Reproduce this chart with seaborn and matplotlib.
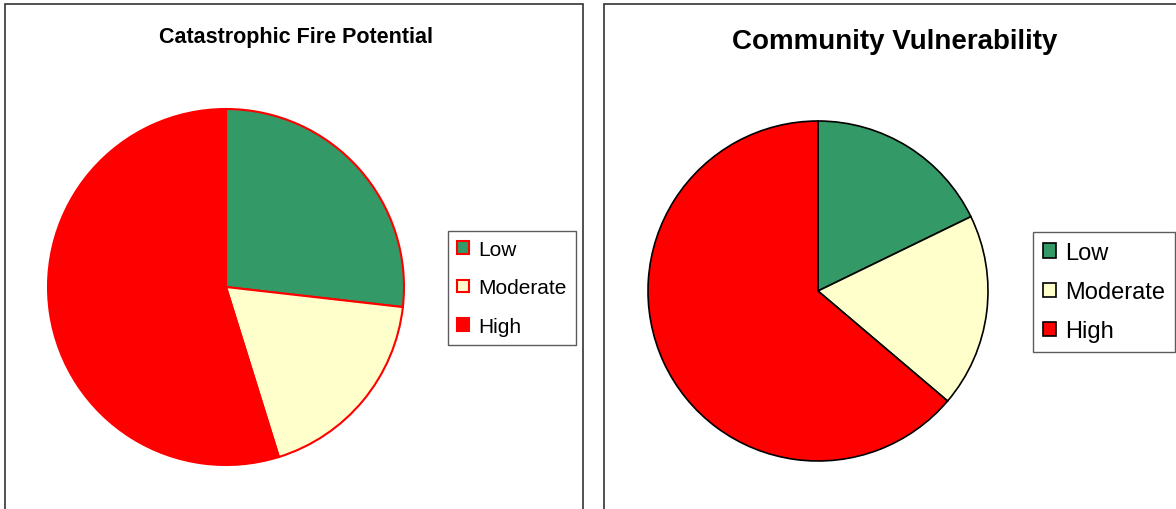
import matplotlib.pyplot as plt
import seaborn as sns
from matplotlib.patches import Rectangle

# Share of area in each class (percent)
categories = ["Low", "Moderate", "High"]
fire_potential = [26.8, 18.4, 54.8]
vulnerability = [17.8, 18.4, 63.8]
colors = ["#339966", "#FFFFCC", "#FF0000"]

sns.set_style("white")
plt.rcParams["font.family"] = ["Liberation Sans", "DejaVu Sans"]
plt.rcParams["text.color"] = "black"

W, H = 1176, 510
fig = plt.figure(figsize=(W / 100, H / 100), dpi=100)


def px_axes(cx, cy, r):
    # axes box in pixel coords (top-left origin) -> figure fraction
    return fig.add_axes([(cx - r) / W, (H - cy - r) / H, 2 * r / W, 2 * r / H])


# panel frames
for x0, x1 in [(5, 583), (604, 1180)]:
    fig.patches.append(Rectangle((x0 / W, -0.05), (x1 - x0) / W, (H - 5) / H + 0.05,
                                 transform=fig.transFigure, fill=False,
                                 edgecolor="#333333", linewidth=1.2))

# left pie
ax1 = px_axes(226, 288, 178)
wedges1, _ = ax1.pie(fire_potential, colors=colors, startangle=90, counterclock=False,
                     wedgeprops=dict(edgecolor="#FF0000", linewidth=1.5))
ax1.set_xlim(-1, 1)
ax1.set_ylim(-1, 1)
ax1.axis("off")
fig.text(296 / W, 1 - 37 / H, "Catastrophic Fire Potential", ha="center", va="center",
         fontsize=15.5, fontweight="bold", color="black")
leg1 = fig.legend(wedges1, categories, loc="center", bbox_to_anchor=(512 / W, 1 - 289 / H),
                  fontsize=15, frameon=True, fancybox=False, handlelength=0.55,
                  handleheight=0.55, handletextpad=0.45, labelspacing=0.93,
                  borderpad=0.45, borderaxespad=0, edgecolor="#333333", labelcolor="black")
leg1.get_frame().set_linewidth(1)
for h in leg1.legend_handles:
    h.set_edgecolor("#FF0000")

# right pie
ax2 = px_axes(818, 292, 170)
wedges2, _ = ax2.pie(vulnerability, colors=colors, startangle=90, counterclock=False,
                     wedgeprops=dict(edgecolor="black", linewidth=1.2))
ax2.set_xlim(-1, 1)
ax2.set_ylim(-1, 1)
ax2.axis("off")
fig.text(895 / W, 1 - 42 / H, "Community Vulnerability", ha="center", va="center",
         fontsize=20, fontweight="bold", color="black")
leg2 = fig.legend(wedges2, categories, loc="center", bbox_to_anchor=(1104 / W, 1 - 293 / H),
                  fontsize=17, frameon=True, fancybox=False, handlelength=0.55,
                  handleheight=0.55, handletextpad=0.4, labelspacing=0.73,
                  borderpad=0.4, borderaxespad=0, edgecolor="#333333", labelcolor="black")
leg2.get_frame().set_linewidth(1)
for h in leg2.legend_handles:
    h.set_edgecolor("black")

fig.savefig("out.png", dpi=100)
